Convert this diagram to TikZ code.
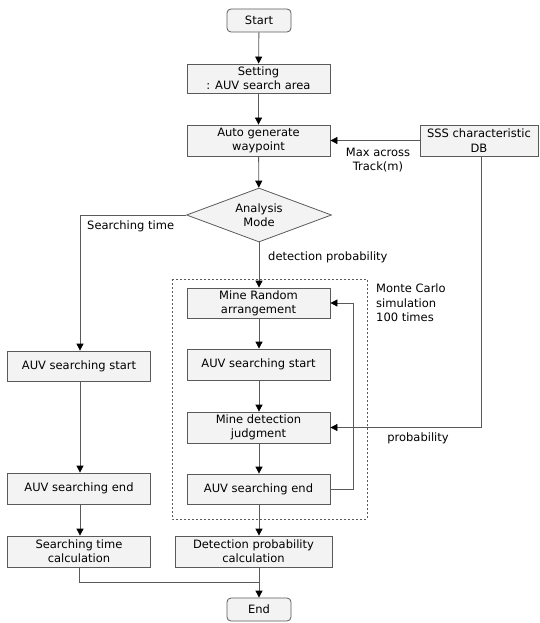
\documentclass[tikz,border=0pt]{standalone}
\usepackage{fontspec}
\setmainfont{DejaVu Sans}
\usetikzlibrary{shapes.geometric,arrows.meta}
\definecolor{boxfill}{HTML}{F3F3F3}
\definecolor{linegray}{HTML}{5A5A5A}
\tikzset{
  box/.style={draw=linegray,fill=boxfill,line width=0.8pt,minimum height=30pt,align=center,font=\fontsize{11.5}{14.3}\selectfont,inner sep=1pt},
  rbox/.style={box,rounded corners=4pt,minimum width=64pt,minimum height=23pt},
  dia/.style={draw=linegray,fill=boxfill,line width=0.8pt,diamond,aspect=2.7,align=center,font=\fontsize{11.5}{14.3}\selectfont,inner sep=0pt,minimum width=145pt,minimum height=54pt},
  conn/.style={draw=linegray,line width=0.8pt,-{Triangle[length=7pt,width=7pt,black]}},
  plain/.style={draw=linegray,line width=0.8pt},
  lbl/.style={font=\fontsize{11.5}{14.3}\selectfont,align=left,inner sep=0pt},
}
\begin{document}
\begin{tikzpicture}[x=1pt,y=-1pt]
\useasboundingbox (0,0) rectangle (539,623);
% dashed frame
\draw[linegray,line width=0.6pt,dash pattern=on 2pt off 2pt] (172,279) rectangle (367,519);
% nodes
\node[rbox] (start) at (259,20.5) {Start};
\node[box,minimum width=143pt,minimum height=29pt] (set) at (258.5,78.5) {Setting\\: AUV search area};
\node[box,minimum width=143pt,minimum height=31pt] (auto) at (258.5,140.5) {Auto generate\\waypoint};
\node[box,minimum width=118pt,minimum height=31pt] (sss) at (479,140.5) {SSS characteristic\\DB};
\node[dia] (mode) at (259,215) {Analysis\\Mode};
\node[box,minimum width=143pt,minimum height=30pt] (mra) at (258.5,303) {Mine Random\\arrangement};
\node[box,minimum width=143pt,minimum height=31pt] (rstart) at (258.5,364.5) {AUV searching start};
\node[box,minimum width=143pt,minimum height=31pt] (mdj) at (258.5,427.5) {Mine detection\\judgment};
\node[box,minimum width=143pt,minimum height=30pt] (rend) at (258.5,489) {AUV searching end};
\node[box,minimum width=157pt,minimum height=31pt] (dpc) at (253.5,551.5) {Detection probability\\calculation};
\node[box,minimum width=143pt,minimum height=30pt] (lstart) at (79,366) {AUV searching start};
\node[box,minimum width=143pt,minimum height=31pt] (lend) at (79,488.5) {AUV searching end};
\node[box,minimum width=143pt,minimum height=31pt] (stc) at (79,551.5) {Searching time\\calculation};
\node[rbox] (end) at (259,609.5) {End};
% coordinates
\coordinate (c1) at (80,215);
\coordinate (c2) at (481.5,427.5);
\coordinate (c3) at (353,489);
\coordinate (c4) at (353,303);
\coordinate (c5) at (79,582);
\coordinate (c6) at (259,582);
% connectors
\draw[conn] (start) -- (set);
\draw[conn] (set) -- (auto);
\draw[conn] (sss.west) -- (auto.east);
\draw[conn] (auto) -- (mode);
\draw[conn] (mode.south) -- (mra.north -| mode.south);
\draw[conn] (mra.south -| mode.south) -- (rstart.north -| mode.south);
\draw[conn] (rstart.south -| mode.south) -- (mdj.north -| mode.south);
\draw[conn] (mdj.south -| mode.south) -- (rend.north -| mode.south);
\draw[conn] (rend.south -| mode.south) -- (dpc.north -| mode.south);
\draw[conn] (mode.west) -- (c1) -- (c1 |- lstart.north);
\draw[conn] (lstart.south -| c1) -- (lend.north -| c1);
\draw[conn] (lend.south -| c1) -- (stc.north -| c1);
\draw[conn] (sss.south -| c2) -- (c2) -- (mdj.east);
\draw[conn] (rend.east) -- (c3) -- (c4) -- (mra.east);
\draw[plain] (stc.south -| c5) -- (c5) -- (c6);
\draw[conn] (dpc.south -| mode.south) -- (end.north -| mode.south);
% labels
\node[lbl,align=center] (lmax) at (378,160) {Max across\\Track(m)};
\node[lbl,anchor=west] (lst) at (87,226) {Searching time};
\node[lbl,anchor=west] (ldp) at (268,257) {detection probability};
\node[lbl,anchor=north west] (lmc) at (376,284) {Monte Carlo\\simulation\\100 times};
\node[lbl] (lprob) at (418,438) {probability};
\end{tikzpicture}
\end{document}
